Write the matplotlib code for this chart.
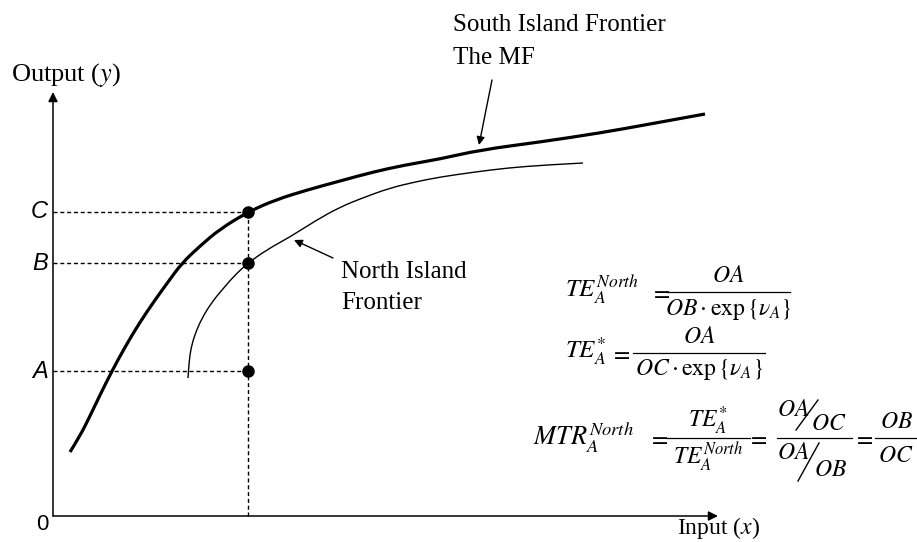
import matplotlib
matplotlib.use("Agg")
import matplotlib.pyplot as plt
from matplotlib.path import Path
from matplotlib.patches import PathPatch

plt.rcParams["mathtext.fontset"] = "stix"
SERIF = "Liberation Serif"
SANS = "Liberation Sans"

# Frontier curves (input, output), origin at the axes corner
south_x = [17, 27, 37, 47, 59, 72, 87, 102, 115, 129, 147, 167, 195, 222,
           254, 287, 320, 352, 387, 427, 487, 547, 597, 652]
south_y = [64, 80, 100, 121, 145, 169, 194, 216, 234, 253, 270, 287, 304, 316,
           326, 335, 344, 351, 357, 366, 374, 383, 392, 402]

north_x = [135, 136, 138, 142, 149, 159, 169, 181, 195, 215, 237, 262, 287,
           312, 337, 362, 387, 422, 454, 492, 530]
north_y = [138, 154, 168, 182, 198, 214, 226, 240, 253, 267, 279, 295, 309,
           319, 328, 334, 339, 344, 348, 351, 353]

# Output levels of firm A on each frontier and its input level
level_names = ["A", "B", "C"]
level_values = [145, 253, 304]
input_A = 195

fig = plt.figure(figsize=(9.17, 5.42), dpi=100)
ax = fig.add_axes([0, 0, 1, 1])
ax.set_xlim(-53, 864)
ax.set_ylim(-26, 516)
ax.axis("off")


def smooth_curve(xs, ys, lw):
    """Draw a polyline as a chain of quadratic Bezier segments."""
    pts = list(zip(xs, ys))
    verts = [pts[0]]
    codes = [Path.MOVETO]
    for i in range(1, len(pts) - 1):
        mid = ((pts[i][0] + pts[i + 1][0]) / 2, (pts[i][1] + pts[i + 1][1]) / 2)
        if i == len(pts) - 2:
            mid = pts[i + 1]
        verts += [pts[i], mid]
        codes += [Path.CURVE3, Path.CURVE3]
    ax.add_patch(PathPatch(Path(verts, codes), facecolor="none",
                           edgecolor="black", lw=lw, capstyle="butt"))


# axes with arrow heads
for tip in [(0, 424), (665, 0)]:
    ax.annotate("", xy=tip, xytext=(0, 0),
                arrowprops=dict(arrowstyle="-|>", lw=1.1, color="black",
                                mutation_scale=14, shrinkA=0, shrinkB=0))

# dashed guide lines
dash = (0, (2.9, 2.0))
for name, val in zip(level_names, level_values):
    ax.plot([0, input_A], [val, val], color="black", lw=1.0, linestyle=dash)
    ax.text(-5, val, name, ha="right", va="center", fontsize=17,
            family=SANS, style="italic")
ax.plot([input_A, input_A], [0, max(level_values)], color="black", lw=1.0,
        linestyle=dash)
ax.text(-5, -9, "0", ha="right", va="center", fontsize=16, family=SANS)

# frontiers
smooth_curve(south_x, south_y, 2.3)
smooth_curve(north_x, north_y, 1.0)

# firm A observations
ax.plot([input_A] * 3, level_values, "o", color="black", markersize=8)

# axis titles
ax.text(-42, 441, "Output ($y$)", ha="left", va="center", fontsize=19,
        family=SERIF)
ax.text(624, -18, "Input ($x$)", ha="left", va="baseline", fontsize=17,
        family=SERIF)

# curve labels
LBL = 18
ax.text(400, 491, "South Island Frontier", ha="left", va="center",
        fontsize=LBL, family=SERIF)
ax.text(400, 458, "The MF", ha="left", va="center", fontsize=LBL,
        family=SERIF)
ax.annotate("", xy=(426, 371), xytext=(439, 436),
            arrowprops=dict(arrowstyle="-|>", lw=1.0, color="black",
                            mutation_scale=12, shrinkA=0, shrinkB=0))

ax.text(288, 244, "North Island", ha="left", va="center", fontsize=LBL,
        family=SERIF)
ax.text(288, 213, "Frontier", ha="left", va="center", fontsize=LBL,
        family=SERIF)
ax.annotate("", xy=(241, 276), xytext=(280, 258),
            arrowprops=dict(arrowstyle="-|>", lw=1.0, color="black",
                            mutation_scale=12, shrinkA=0, shrinkB=0))

# equations
FS = 17


def frac(x0, x1, y, num, den, dy_num=17, dy_den=17):
    ax.plot([x0, x1], [y, y], color="black", lw=0.9)
    xc = (x0 + x1) / 2
    ax.text(xc, y + dy_num, num, ha="center", va="center", fontsize=FS)
    ax.text(xc, y - dy_den, den, ha="center", va="center", fontsize=FS)


# TE North
ax.text(512, 226, r"$TE_A^{North}$", ha="left", va="center", fontsize=FS + 1)
ax.text(607, 224, r"$=$", ha="center", va="center", fontsize=FS)
frac(614, 737, 224, r"$OA$", r"$OB\cdot\exp\{\nu_A\}$")

# TE meta
ax.text(512, 165, r"$TE_A^{*}$", ha="left", va="center", fontsize=FS + 1)
ax.text(567, 163, r"$=$", ha="center", va="center", fontsize=FS)
frac(580, 712, 163, r"$OA$", r"$OC\cdot\exp\{\nu_A\}$")

# meta-technology ratio
ax.text(480, 78, r"$MTR_A^{North}$", ha="left", va="center", fontsize=FS + 2)
ax.text(605, 78, r"$=$", ha="center", va="center", fontsize=FS)
frac(613, 697, 78, r"$TE_A^{*}$", r"$TE_A^{North}$", dy_num=17, dy_den=19)
ax.text(704, 78, r"$=$", ha="center", va="center", fontsize=FS)
ax.plot([724, 799], [78, 78], color="black", lw=0.9)
ax.text(740, 107, r"$OA$", ha="center", va="center", fontsize=FS)
ax.text(776, 93, r"$OC$", ha="center", va="center", fontsize=FS)
ax.plot([743, 765], [86, 116], color="black", lw=1.0)
ax.text(740, 64, r"$OA$", ha="center", va="center", fontsize=FS)
ax.text(777, 47, r"$OB$", ha="center", va="center", fontsize=FS)
ax.plot([745, 766], [35, 73], color="black", lw=1.0)
ax.text(810, 78, r"$=$", ha="center", va="center", fontsize=FS)
frac(822, 864, 78, r"$OB$", r"$OC$")

fig.savefig("out.png", dpi=100)
